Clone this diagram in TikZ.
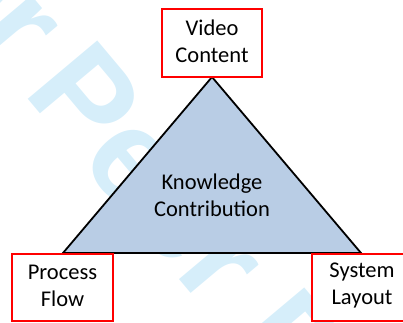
\documentclass[tikz,border=0pt]{standalone}
\usepackage{fontspec}
\setmainfont{Carlito}
\newfontfamily\wmfont{Liberation Sans}
\definecolor{wmcyan}{RGB}{214,238,250}
\definecolor{trifill}{RGB}{185,205,229}
\begin{document}
\begin{tikzpicture}[x=1pt,y=1pt,
  lbl/.style={font=\fontsize{22.5}{27}\selectfont, align=center, inner sep=0pt},
  redbox/.style={draw=red, line width=2pt, fill=white},
  wm/.style={font=\wmfont\bfseries\fontsize{132}{132}\selectfont, text=wmcyan, rotate=-50, inner sep=0pt}]
\useasboundingbox (0,0) rectangle (403,322);
% watermark
\coordinate (wp) at (22,230);
\coordinate (wq) at (6,249);
\node[wm, anchor=base west] (wmb) at (wp) {Peer Review};
\node[wm, anchor=base east] (wma) at (wq) {For\hspace{0.278em}};
% triangle
\coordinate (apex) at (212,245);
\coordinate (bl) at (63,69);
\coordinate (br) at (361,69);
\draw[fill=trifill, line width=1.8pt, line join=miter] (apex) -- (bl) -- (br) -- cycle;
\node[lbl] (kc) at (212,127) {Knowledge\\Contribution};
% boxes
\draw[redbox] (162,245) rectangle (262,313);
\node[lbl] (vc) at (212,281) {Video\\Content};
\draw[redbox] (12,1) rectangle (113,68);
\node[lbl] (pf) at (62.5,36) {Process\\Flow};
\draw[redbox] (312,1) rectangle (412,68);
\node[lbl] (sl) at (362,36) {System\\Layout};
\end{tikzpicture}
\end{document}
